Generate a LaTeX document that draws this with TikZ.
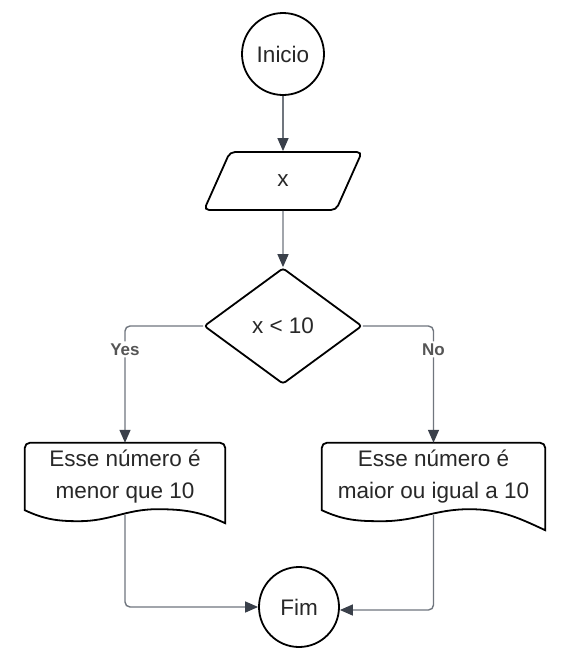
\documentclass[tikz,border=0pt]{standalone}
\usepackage{fontspec}
\setmainfont{Liberation Sans}
\usetikzlibrary{shapes.geometric}
\usetikzlibrary{arrows.meta}
\usetikzlibrary{calc}
\definecolor{linha}{RGB}{112,118,126}
\definecolor{ponta}{RGB}{58,64,74}
\definecolor{texto}{RGB}{40,40,40}
\definecolor{cinza}{RGB}{85,85,85}

\begin{document}
\begin{tikzpicture}[x=1pt,y=1pt]
\tikzstyle{seta}=[-{Triangle[length=13pt,width=11pt,color=ponta]},draw=linha,line width=1.4pt]
\tikzset{forma/.style={draw,line width=1.8pt,fill=white,text=texto,font=\fontsize{22.5}{32}\selectfont},
terminal/.style={forma,circle,minimum size=#1,inner sep=0pt},
terminal/.default={82pt},
entrada/.style={forma,trapezium,trapezium left angle=77,trapezium right angle=103,
  trapezium stretches=true,minimum width=158pt,minimum height=58pt,rounded corners=5pt,inner sep=0pt},
decisao/.style={forma,diamond,aspect=1.36,minimum width=158pt,minimum height=116pt,
  rounded corners=3pt,inner sep=0pt},
documento/.style={text=texto,font=\fontsize{22.5}{32}\selectfont,align=center,
  minimum width=#1,minimum height=67pt,inner sep=0pt},
rotulo/.style={fill=white,text=cinza,font=\fontsize{17}{19}\bfseries,inner sep=2pt}}
\fill[white] (0,0) rectangle (564,-662);
\useasboundingbox (0,0) rectangle (564,-662);

\node [terminal] (inicio) at (283,-54) {Inicio};
\node [entrada] (valor) at (283,-181) {x};
\node [decisao] (teste) at (283,-326) {x < 10};
\node [documento=200pt] (menor) at (125,-476.5) {\raisebox{-3pt}{Esse número é}\\\raisebox{-3pt}{menor que 10}};
\node [documento=223pt] (maior) at (433.5,-476.5) {\raisebox{-3pt}{Esse número é}\\\raisebox{-3pt}{maior ou igual a 10}};
\node [terminal=80pt] (fim) at (299,-607) {Fim};

% contorno dos documentos
\foreach \doc/\queda in {menor/13,maior/20}{
\draw [line width=1.8pt] (\doc.south west) [rounded corners=5pt] -- (\doc.north west)
  -- (\doc.north east) [sharp corners] -- ([yshift=-\queda pt]\doc.south east)
  to[out=155,in=0] ($(\doc.south west)!0.66!(\doc.south east)+(0,1)$)
  to[out=180,in=0] ($(\doc.south west)!0.27!(\doc.south east)+(0,-11)$)
  to[out=180,in=-25] cycle;
\coordinate (\doc-base) at ([yshift=-5pt]\doc.south);
}

\draw [seta] (inicio) -- (valor);
\draw [seta] (valor) -- (teste);
\draw [seta,rounded corners=5pt] (teste.west) -| node[rotulo,pos=0.6] (sim) {Yes} (menor.north);
\draw [seta,rounded corners=5pt] (teste.east) -| node[rotulo,pos=0.6] (nao) {No} (maior.north);
\draw [seta,rounded corners=5pt] (menor-base) |- (fim.west);
\draw [seta,rounded corners=5pt] (maior-base) |- ([yshift=-3pt]fim.east);
\end{tikzpicture}
\end{document}
